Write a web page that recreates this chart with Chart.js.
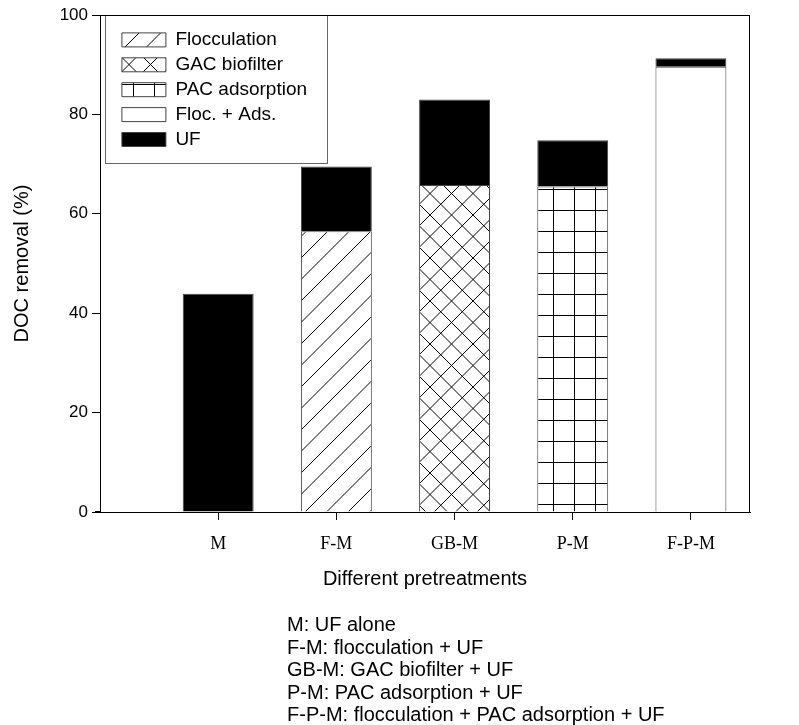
<!DOCTYPE html>
<html>
<head>
<meta charset="utf-8">
<script src="https://cdn.jsdelivr.net/npm/chart.js@4.4.1/dist/chart.umd.min.js"></script>
<style>
body{margin:0;background:#fff}
#wrap{position:relative;width:799px;height:725px}
#notes{position:absolute;left:287px;top:613px;font-family:"Liberation Sans",Arial,sans-serif;font-size:20px;line-height:22.6px;color:#000;white-space:nowrap}
</style>
</head>
<body>
<div id="wrap">
<canvas id="chart"></canvas>
<div id="notes">
<div>M: UF alone</div>
<div>F-M: flocculation + UF</div>
<div>GB-M: GAC biofilter + UF</div>
<div>P-M: PAC adsorption + UF</div>
<div>F-P-M: flocculation + PAC adsorption + UF</div>
</div>
</div>
<script>
const categories = ["M", "F-M", "GB-M", "P-M", "F-P-M"]
const flocculation = [null, 56.5, null, null, null]
const gacBiofilter = [null, null, 65.8, null, null]
const pacAdsorption = [null, null, null, 65.5, null]
const flocAds = [null, null, null, null, 89.6]
const uf = [43.9, 13.0, 17.2, 9.3, 1.7]
const yTicks = [0, 20, 40, 60, 80, 100]

const SANS = "'Liberation Sans', Arial, sans-serif"
const SERIF = "'Liberation Serif', 'Times New Roman', serif"

const canvas = document.getElementById("chart")
const ctx = canvas.getContext("2d")

// hatch tiles
function tile(size, draw){
    const c = document.createElement("canvas")
    c.width = size; c.height = size
    const g = c.getContext("2d")
    g.fillStyle = "#fff"
    g.fillRect(0, 0, size, size)
    g.strokeStyle = "#000"
    g.fillStyle = "#000"
    g.lineWidth = 1
    draw(g, size)
    return ctx.createPattern(c, "repeat")
}
const slashPat = tile(43, (g, s)=>{
    g.beginPath()
    for(const c of [0, 21.5, 43, 64.5, 86]){ g.moveTo(c, 0); g.lineTo(c - s, s) }
    g.stroke()
})
const crossPat = tile(43, (g, s)=>{
    g.beginPath()
    for(const c of [0, 21.5, 43, 64.5, 86]){ g.moveTo(c, 0); g.lineTo(c - s, s) }
    for(const c of [-43, -21.5, 0, 21.5, 43]){ g.moveTo(c, 0); g.lineTo(c + s, s) }
    g.stroke()
})
const gridPat = tile(21, (g, s)=>{
    g.fillRect(0, 0, s, 1)
    g.fillRect(0, 0, 1, s)
})

const positions = categories.map((_, i)=>i + 1)
const pts = arr=>arr.map((v, i)=>({x: positions[i], y: v}))

const layerStyle = {borderColor: "#444", borderWidth: 1, barPercentage: 0.6, categoryPercentage: 1}

// legend box + frame + pattern alignment
const extras = {
    id: "extras",
    afterLayout(chart){
        const lg = chart.legend
        lg.left = 116; lg.top = 24.5
        lg.right = lg.left + lg.width; lg.bottom = lg.top + 200
        const xs = chart.scales.x, ys = chart.scales.y
        const unit = xs.getPixelForValue(1) - xs.getPixelForValue(0)
        const barLeft = xs.getPixelForValue(4) - unit * 0.3
        gridPat.setTransform(new DOMMatrix().translate(Math.round(barLeft + 16), Math.round(ys.getPixelForValue(0) - 8)))
    },
    beforeDraw(chart){
        const c = chart.ctx
        c.save()
        c.fillStyle = "#fff"
        c.fillRect(105, 15, 223, 148)
        c.strokeStyle = "#666"
        c.lineWidth = 1
        c.strokeRect(105.5, 15.5, 222, 148)
        c.restore()
    },
    afterDraw(chart){
        const {left, top, right, bottom} = chart.chartArea
        const c = chart.ctx
        c.save()
        c.strokeStyle = "#000"
        c.lineWidth = 1
        c.beginPath()
        c.moveTo(left, Math.round(top) + 0.5)
        c.lineTo(right, Math.round(top) + 0.5)
        c.moveTo(Math.round(right) - 0.5, top)
        c.lineTo(Math.round(right) - 0.5, bottom)
        c.moveTo(95, Math.round(bottom) - 0.5)
        c.lineTo(left, Math.round(bottom) - 0.5)
        c.stroke()
        c.restore()
    }
}

new Chart(canvas, {
    type: "bar",
    data: {
        datasets: [
            {label: "Flocculation", data: pts(flocculation), backgroundColor: slashPat, ...layerStyle},
            {label: "GAC biofilter", data: pts(gacBiofilter), backgroundColor: crossPat, ...layerStyle},
            {label: "PAC adsorption", data: pts(pacAdsorption), backgroundColor: gridPat, ...layerStyle},
            {label: "Floc. + Ads.", data: pts(flocAds), backgroundColor: "#fff", ...layerStyle},
            {label: "UF", data: pts(uf), backgroundColor: "#000", ...layerStyle}
        ]
    },
    options: {
        responsive: true,
        maintainAspectRatio: false,
        animation: false,
        events: [],
        layout: {padding: {left: 0, top: 15, right: 49, bottom: 133}},
        plugins: {
            tooltip: {enabled: false},
            legend: {
                position: "chartArea",
                align: "start",
                labels: {boxWidth: 44, boxHeight: 14, padding: 5.9, color: "#000", font: {family: SANS, size: 19}}
            }
        },
        scales: {
            x: {
                type: "linear",
                stacked: true,
                offset: false,
                min: 0,
                max: 5.5,
                afterBuildTicks: s=>{ s.ticks = positions.map(v=>({value: v})) },
                afterFit: s=>{ s.height = 80 },
                ticks: {
                    color: "#000",
                    padding: 13,
                    font: {family: SERIF, size: 18},
                    callback: v=>categories[v - 1]
                },
                grid: {display: true, offset: false, drawOnChartArea: false, drawTicks: true, tickLength: 8, color: "#000"},
                border: {display: true, color: "#000", width: 1},
                title: {display: true, text: "Different pretreatments", color: "#000", font: {family: SANS, size: 20}, padding: {top: 0, bottom: 1}}
            },
            y: {
                stacked: true,
                min: 0,
                max: 100,
                afterBuildTicks: s=>{ s.ticks = yTicks.map(v=>({value: v})) },
                afterFit: s=>{ s.width = 100 },
                ticks: {color: "#000", padding: 4, font: {family: SANS, size: 17}},
                grid: {display: true, drawOnChartArea: false, drawTicks: true, tickLength: 8, color: "#000"},
                border: {display: true, color: "#000", width: 1},
                title: {display: true, text: "DOC removal (%)", color: "#000", font: {family: SANS, size: 20}, padding: {top: 10, bottom: 0}}
            }
        }
    },
    plugins: [extras]
})
</script>
</body>
</html>
